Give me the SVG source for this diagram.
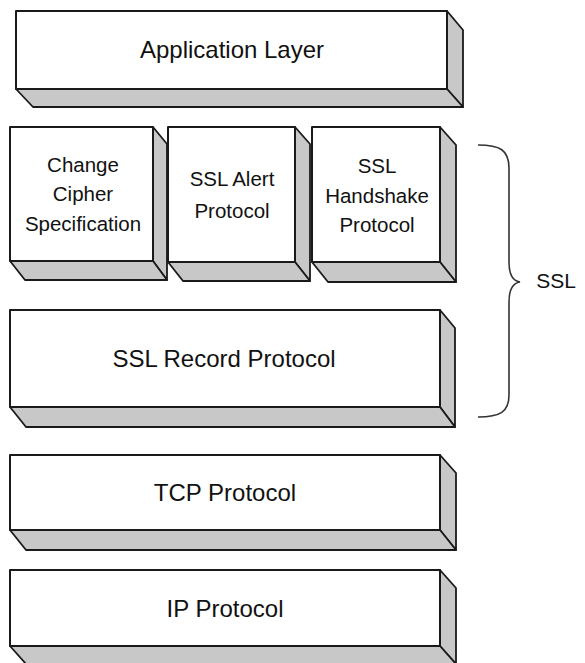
<svg xmlns="http://www.w3.org/2000/svg" width="585" height="663" viewBox="0 0 585 663">
<style>
.front{fill:#ffffff;stroke:#1a1a1a;stroke-width:2;stroke-linejoin:round}
.depth{fill:#c8c8c8;stroke:#1a1a1a;stroke-width:1.8;stroke-linejoin:round}
.big{font-family:"Liberation Sans",Arial,sans-serif;font-size:24px;fill:#111;text-anchor:middle}
.small{font-family:"Liberation Sans",Arial,sans-serif;font-size:20.5px;fill:#111;text-anchor:middle}
.brace{fill:none;stroke:#333;stroke-width:1.6}
</style>
<rect width="585" height="663" fill="#ffffff"/>
<g id="app">
  <polygon class="depth" points="447,11 463,30 463,107 447,89"/>
  <polygon class="depth" points="16,89 447,89 463,107 33,107"/>
  <rect class="front" x="16" y="11" width="431" height="78"/>
  <text class="big" x="232" y="58">Application Layer</text>
</g>
<g id="ccs">
  <polygon class="depth" points="153,127 167,144 167,280 153,261"/>
  <polygon class="depth" points="10,261 153,261 167,280 25,280"/>
  <rect class="front" x="10" y="127" width="143" height="134"/>
  <text class="small" x="83" y="172">Change</text>
  <text class="small" x="83" y="201">Cipher</text>
  <text class="small" x="83" y="231">Specification</text>
</g>
<g id="alert">
  <polygon class="depth" points="295,127 310,144 310,281 295,262"/>
  <polygon class="depth" points="168,262 295,262 310,281 183,281"/>
  <rect class="front" x="168" y="127" width="127" height="135"/>
  <text class="small" x="232" y="186">SSL Alert</text>
  <text class="small" x="232" y="218">Protocol</text>
</g>
<g id="handshake">
  <polygon class="depth" points="440,127 456,145 456,282 440,262"/>
  <polygon class="depth" points="312,262 440,262 456,282 328,282"/>
  <rect class="front" x="312" y="127" width="128" height="135"/>
  <text class="small" x="377" y="173">SSL</text>
  <text class="small" x="377" y="203">Handshake</text>
  <text class="small" x="377" y="232">Protocol</text>
</g>
<g id="record">
  <polygon class="depth" points="440,310 455,328 455,427 440,407"/>
  <polygon class="depth" points="10,407 440,407 455,427 26,427"/>
  <rect class="front" x="10" y="310" width="430" height="97"/>
  <text class="big" x="224" y="367">SSL Record Protocol</text>
</g>
<g id="tcp">
  <polygon class="depth" points="440,455 456,473 456,550 440,530"/>
  <polygon class="depth" points="10,530 440,530 456,550 26,550"/>
  <rect class="front" x="10" y="455" width="430" height="75"/>
  <text class="big" x="225" y="501">TCP Protocol</text>
</g>
<g id="ip">
  <polygon class="depth" points="440,570 456,588 456,664 440,646"/>
  <polygon class="depth" points="10,646 440,646 456,664 26,664"/>
  <rect class="front" x="10" y="570" width="430" height="76"/>
  <text class="big" x="225" y="617">IP Protocol</text>
</g>
<g id="connectors">
  <path class="brace" d="M478,145 C500,145 509,150 509,168 L509,262 C509,275 513,281 520,282 C513,283 509,289 509,302 L509,395 C509,412 500,417 478,417"/>
</g>
<g id="ssl-label">
  <text x="556" y="288" style="font-family:'Liberation Sans',Arial,sans-serif;font-size:21px;fill:#111;text-anchor:middle">SSL</text>
</g>
</svg>
